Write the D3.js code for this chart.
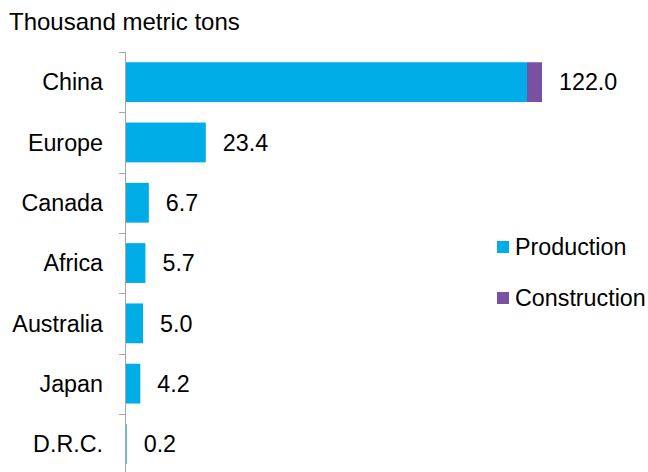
<!DOCTYPE html>
<html>
<head>
<meta charset="utf-8">
<script src="https://cdn.jsdelivr.net/npm/d3@7"></script>
<style>
  body { margin: 0; background: #fff; }
  text { font-family: "Liberation Sans", Arial, sans-serif; fill: #000; }
</style>
</head>
<body>
<div id="chart"></div>
<script>
// data
const regions = ["China", "Europe", "Canada", "Africa", "Australia", "Japan", "D.R.C."];
const production = [117.6, 23.4, 6.7, 5.7, 5.0, 4.2, 0.2];
const construction = [4.4, 0, 0, 0, 0, 0, 0];
const totals = ["122.0", "23.4", "6.7", "5.7", "5.0", "4.2", "0.2"];
const seriesNames = ["Production", "Construction"];
const colors = ["#00ADE6", "#7A50A3"];

const width = 648, height = 472;
const plotLeft = 126, plotTop = 52, bandH = 60.3;
const fontSize = "23.3px";

const svg = d3.select("#chart")
  .append("svg")
  .attr("width", width)
  .attr("height", height);

// title
svg.append("text")
  .attr("x", 9).attr("y", 30)
  .attr("font-size", "24px")
  .text("Thousand metric tons");

const y = d3.scaleBand()
  .domain(regions)
  .range([plotTop, plotTop + bandH * regions.length])
  .paddingInner(0.34)
  .paddingOuter(0.17);

const x = d3.scaleLinear()
  .domain([0, 122])
  .range([plotLeft, 542]);

// stacked rows
const rows = regions.map(function(r, i) {
  return { region: r, Production: production[i], Construction: construction[i] };
});
const stack = d3.stack().keys(seriesNames)(rows);

svg.selectAll("g.series")
  .data(stack)
  .enter()
  .append("g")
  .attr("class", "series")
  .attr("fill", function(d, i) { return colors[i]; })
  .selectAll("rect")
  .data(function(d) { return d; })
  .enter()
  .append("rect")
  .attr("x", function(d) { return x(d[0]); })
  .attr("y", function(d) { return y(d.data.region); })
  .attr("width", function(d) { return Math.max(0, x(d[1]) - x(d[0])); })
  .attr("height", y.bandwidth());

// axis line + ticks at band boundaries
const axisG = svg.append("g").attr("stroke", "#A6A6A6").attr("stroke-width", 1);
axisG.append("line")
  .attr("x1", plotLeft - 0.5).attr("x2", plotLeft - 0.5)
  .attr("y1", plotTop).attr("y2", plotTop + bandH * regions.length);
d3.range(regions.length + 1).forEach(function(i) {
  const ty = Math.round(plotTop + bandH * i) + 0.5;
  axisG.append("line")
    .attr("x1", plotLeft - 7).attr("x2", plotLeft)
    .attr("y1", ty).attr("y2", ty);
});

// category labels
svg.selectAll("text.cat")
  .data(regions)
  .enter()
  .append("text")
  .attr("class", "cat")
  .attr("x", 103)
  .attr("y", function(d) { return y(d) + y.bandwidth() / 2; })
  .attr("dy", "0.35em")
  .attr("text-anchor", "end")
  .attr("font-size", fontSize)
  .text(function(d) { return d; });

// value labels
svg.selectAll("text.val")
  .data(regions)
  .enter()
  .append("text")
  .attr("class", "val")
  .attr("x", function(d, i) { return x(production[i] + construction[i]) + 17; })
  .attr("y", function(d) { return y(d) + y.bandwidth() / 2; })
  .attr("dy", "0.35em")
  .attr("font-size", fontSize)
  .text(function(d, i) { return totals[i]; });

// legend
const legend = svg.selectAll("g.legend")
  .data(seriesNames)
  .enter()
  .append("g")
  .attr("class", "legend")
  .attr("transform", function(d, i) { return "translate(497," + (241 + i * 51) + ")"; });
legend.append("rect")
  .attr("width", 12).attr("height", 12)
  .attr("fill", function(d, i) { return colors[i]; });
legend.append("text")
  .attr("x", 18).attr("y", 6)
  .attr("dy", "0.35em")
  .attr("font-size", fontSize)
  .text(function(d) { return d; });
</script>
</body>
</html>
